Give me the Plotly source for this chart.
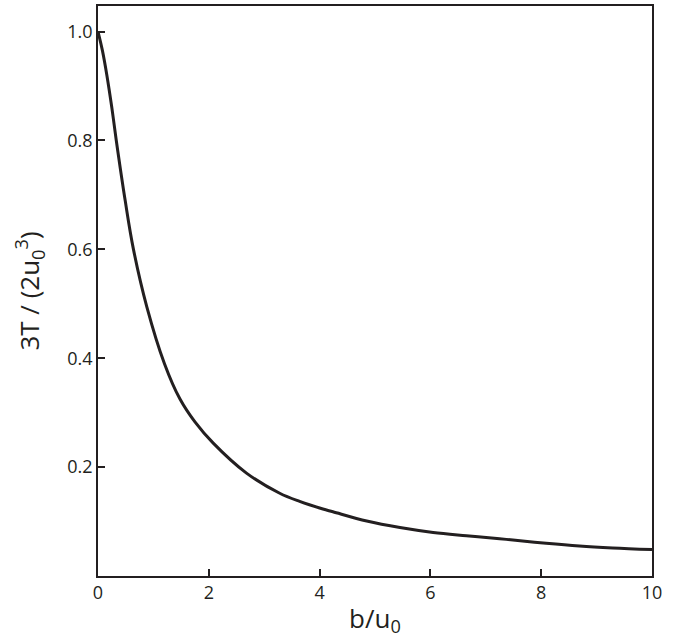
import plotly.graph_objects as go

# values
b_over_u0 = [0, 0.08, 0.16, 0.25, 0.33, 0.49, 0.64, 0.88, 1.2, 1.48, 1.75, 2.08, 2.68,
             3.28, 3.64, 4.06, 4.24, 4.85, 5.45, 6.05, 6.65, 7.25, 7.49,
             8.09, 8.69, 9.29, 10]
t_ratio = [1.0, 0.965, 0.92, 0.86, 0.80, 0.69, 0.60, 0.495, 0.39, 0.325, 0.283, 0.244, 0.189,
           0.152, 0.137, 0.123, 0.118, 0.101, 0.089, 0.080, 0.074, 0.0685, 0.066,
           0.060, 0.055, 0.0515, 0.0485]

x_ticks = [0, 2, 4, 6, 8, 10]
y_ticks = [0.2, 0.4, 0.6, 0.8, 1.0]
y_tick_text = ["0.2", "0.4", "0.6", "0.8", "1.0"]

ink = "#231f20"
font_family = "Open Sans, Noto Sans, sans-serif"

fig = go.Figure()
fig.add_trace(go.Scatter(
    x=b_over_u0, y=t_ratio, mode="lines",
    line=dict(color=ink, width=3, shape="spline", smoothing=1.0),
    showlegend=False, hoverinfo="skip",
))

axis_common = dict(
    showgrid=False, zeroline=False, showline=True, linecolor=ink, linewidth=1.5,
    mirror=True, ticks="inside", ticklen=7, tickwidth=1.5, tickcolor=ink,
    tickfont=dict(family=font_family, size=18, color=ink),
)

fig.update_layout(
    width=692, height=644,
    margin=dict(l=98, r=40, t=4, b=68),
    paper_bgcolor="white", plot_bgcolor="white",
    xaxis=dict(range=[0, 10], tickvals=x_ticks,
               title=dict(text="b/u<sub>0</sub>", font=dict(family=font_family, size=26, color=ink), standoff=6),
               **axis_common),
    yaxis=dict(range=[0, 1.047], tickvals=y_ticks, ticktext=y_tick_text,
               title=dict(text="3T / (2u<sub>0</sub><sup>3</sup>)", font=dict(family=font_family, size=26, color=ink), standoff=20),
               **axis_common),
)

fig.write_html("out.html", config={"displayModeBar": False},
               post_script="document.body.style.margin='0';")
